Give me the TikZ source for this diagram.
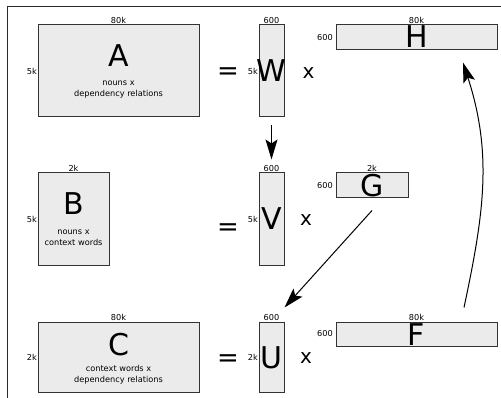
\documentclass[tikz,border=0pt]{standalone}
\usepackage{fontspec}
\setmainfont{DejaVu Sans}
\usetikzlibrary{arrows.meta}
\definecolor{boxfill}{HTML}{EBEBEB}
\definecolor{boxline}{HTML}{333333}
\definecolor{framec}{HTML}{2A2A2A}
\begin{document}
\begin{tikzpicture}[x=1pt,y=-1pt,
  mat/.style={draw=boxline,fill=boxfill,line width=1pt,inner sep=0pt,rectangle},
  dim/.style={font=\fontsize{8.2}{10}\selectfont,inner sep=0.5pt},
  big/.style={font=\fontsize{30}{36}\selectfont,inner sep=0pt,anchor=base},
  desc/.style={font=\fontsize{8.2}{10}\selectfont,inner sep=0pt,anchor=base},
  eqs/.style={font=\fontsize{26}{30}\selectfont,inner sep=0pt,anchor=base},
  times/.style={font=\fontsize{20}{24}\selectfont,inner sep=0pt,anchor=base},
  arr/.style={-{Stealth[length=20pt,width=12pt,inset=4pt]},line width=1pt}]
\useasboundingbox (0,0) rectangle (501,398);
\fill[white] (0,0) rectangle (501,398);
% frame
\draw[line width=1.5pt,framec] (502,6.5) -- (7.5,6.5) -- (7.5,399);

% row 1
\node[mat,minimum width=161pt,minimum height=92pt,
  label={[dim,name=Atop,label distance=0.5pt]above:80k},
  label={[dim,name=Aleft]left:5k}] (A) at (118.5,71) {};
\node[big] (Aname) at (118.5,67) {A};
\node[desc] (Ad1) at (118.5,85.7) {nouns x};
\node[desc] (Ad2) at (118.5,96.7) {dependency relations};
\node[eqs] (eq1) at (228,80) {=};
\node[mat,minimum width=25pt,minimum height=92pt,
  label={[dim,name=Wtop,label distance=0.5pt]above:600},
  label={[dim,name=Wleft]left:5k}] (W) at (271.5,71) {};
\node[big] (Wname) at (271.5,82) {W};
\node[times] (x1) at (308.5,78.3) {x};
\node[mat,minimum width=161pt,minimum height=25pt,
  label={[dim,name=Htop,label distance=0.5pt]above:80k},
  label={[dim,name=Hleft,label distance=2pt]left:600}] (H) at (416.5,37.5) {};
\node[big] (Hname) at (416.5,48) {H};

% row 2
\node[mat,minimum width=71pt,minimum height=93pt,
  label={[dim,name=Btop,label distance=0.5pt]above:2k},
  label={[dim,name=Bleft]left:5k}] (B) at (73.5,219.5) {};
\node[big] (Bname) at (73.5,215) {B};
\node[desc] (Bd1) at (73.5,234.5) {nouns x};
\node[desc] (Bd2) at (73.5,245.5) {context words};
\node[eqs] (eq2) at (228,236) {=};
\node[mat,minimum width=25pt,minimum height=93pt,
  label={[dim,name=Vtop,label distance=0.5pt]above:600},
  label={[dim,name=Vleft]left:5k}] (V) at (271.5,219.5) {};
\node[big] (Vname) at (271.5,230) {V};
\node[times] (x2) at (306,226) {x};
\node[mat,minimum width=72pt,minimum height=25pt,
  label={[dim,name=Gtop,label distance=0.5pt]above:2k},
  label={[dim,name=Gleft,label distance=2pt]left:600}] (G) at (372,185.5) {};
\node[big] (Gname) at (372,196.5) {G};

% row 3
\node[mat,minimum width=161pt,minimum height=70pt,
  label={[dim,name=Ctop,label distance=0.5pt]above:80k},
  label={[dim,name=Cleft]left:2k}] (C) at (118.5,357) {};
\node[big] (Cname) at (118.5,355) {C};
\node[desc] (Cd1) at (118.5,371) {context words x};
\node[desc] (Cd2) at (118.5,382) {dependency relations};
\node[eqs] (eq3) at (228,366) {=};
\node[mat,minimum width=25pt,minimum height=70pt,
  label={[dim,name=Utop,label distance=0.5pt]above:600},
  label={[dim,name=Uleft]left:2k}] (U) at (271.5,357) {};
\node[big] (Uname) at (271.5,368.5) {U};
\node[times] (x3) at (306,363.3) {x};
\node[mat,minimum width=161pt,minimum height=24pt,
  label={[dim,name=Ftop,label distance=0.5pt]above:80k},
  label={[dim,name=Fleft,label distance=2pt]left:600}] (F) at (416.5,334) {};
\node[big] (Fname) at (416.5,345) {F};

% arrows
\draw[arr] ([yshift=-8pt]W.south) -- ([yshift=13pt]V.north);
\draw[arr] ([yshift=-12pt]G.south) -- ([yshift=14pt]U.north east);
\draw[arr] ([xshift=47.5pt,yshift=14pt]F.north) to[out=78,in=-72] ([xshift=46.5pt,yshift=-12pt]H.south);
\end{tikzpicture}
\end{document}
